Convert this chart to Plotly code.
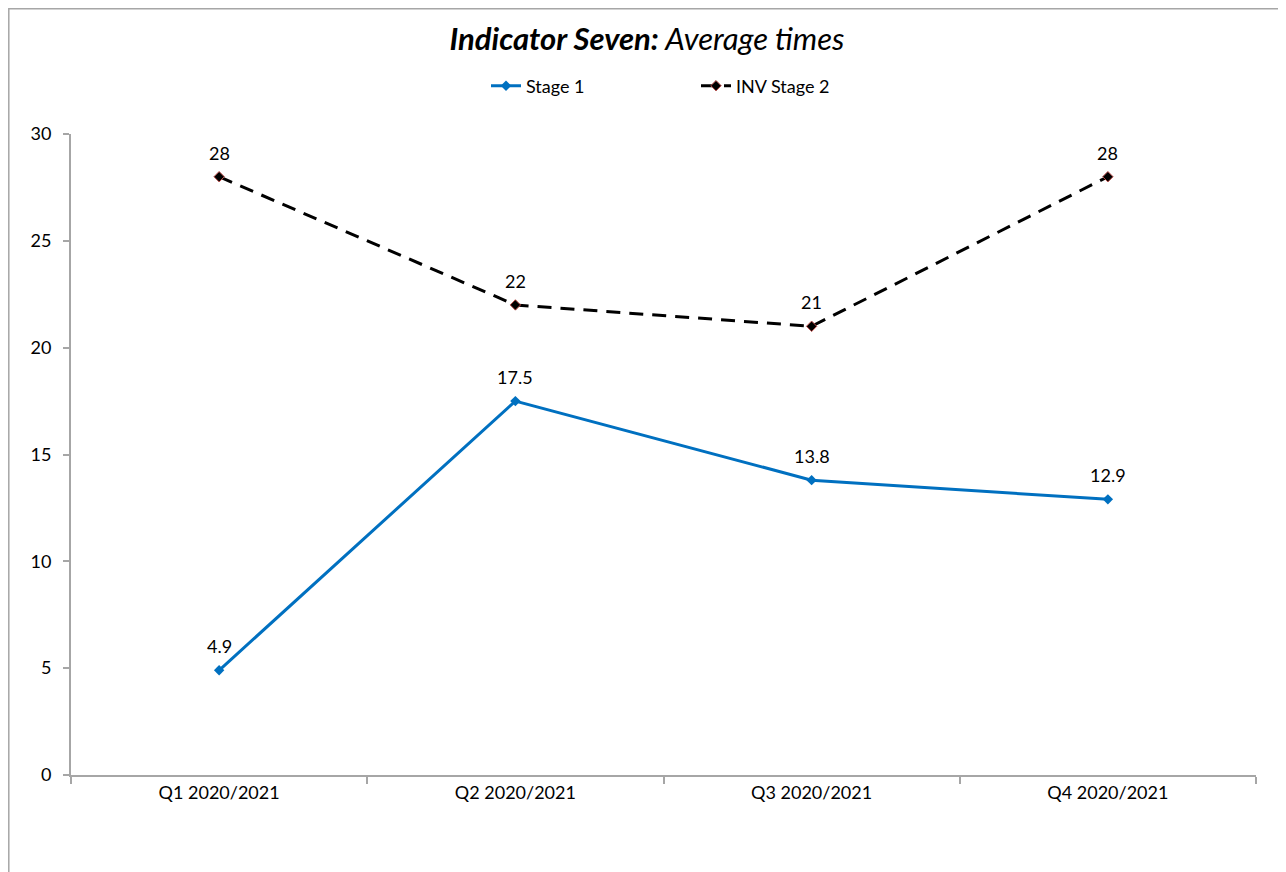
import plotly.graph_objects as go

categories = ["Q1 2020/2021", "Q2 2020/2021", "Q3 2020/2021", "Q4 2020/2021"]
stage1 = [4.9, 17.5, 13.8, 12.9]
inv_stage2 = [28, 22, 21, 28]
stage1_labels = ["4.9", "17.5", "13.8", "12.9"]
inv_labels = ["28", "22", "21", "28"]

FONT = "Lato, 'Open Sans', sans-serif"
W, H = 1278, 864
L, R, T, B = 63, 30, 126, 97

fig = go.Figure()
fig.add_trace(go.Scatter(
    x=categories, y=stage1, name="Stage 1", mode="lines+markers",
    line=dict(color="#0070C0", width=3),
    marker=dict(symbol="diamond", size=8, color="#0070C0"),
))
fig.add_trace(go.Scatter(
    x=categories, y=inv_stage2, name="INV Stage 2", mode="lines+markers",
    line=dict(color="#000000", width=3, dash="14px,9px"),
    marker=dict(symbol="diamond", size=8, color="#000000",
                line=dict(color="#C0504D", width=1)),
))

annotations = []
for xs, ys, labels in [(categories, stage1, stage1_labels), (categories, inv_stage2, inv_labels)]:
    for xv, yv, t in zip(xs, ys, labels):
        annotations.append(dict(x=xv, y=yv, text=t, showarrow=False, yshift=24,
                                font=dict(size=18, family=FONT, color="#000000")))

fig.update_layout(
    width=W, height=H,
    paper_bgcolor="white", plot_bgcolor="white",
    margin=dict(l=L, r=R, t=T, b=B),
    font=dict(family=FONT, size=18, color="#000000"),
    title=dict(
        text="<b><i>Indicator Seven:</i></b><i> Average times</i>",
        x=0.5, xanchor="center", y=1 - 31 / H, yanchor="middle",
        font=dict(size=31, family=FONT, color="#000000"),
    ),
    legend=dict(orientation="h", x=(478 - L) / 1185, xanchor="left",
                y=1 + (T - 78) / (H - T - B), yanchor="middle",
                font=dict(size=18, family=FONT), entrywidth=165, entrywidthmode="pixels",
                bgcolor="rgba(0,0,0,0)"),
    showlegend=True,
    annotations=annotations,
    shapes=[dict(type="rect", xref="paper", yref="paper",
                 x0=(0.8 - L) / 1185, x1=(1290 - L) / 1185,
                 y0=-0.3, y1=(H - B - 0.8) / (H - T - B),
                 line=dict(color="#A6A6A6", width=1.5), layer="below")],
)
fig.update_xaxes(
    type="category", range=[-0.5, 3.5], showgrid=False,
    showline=True, linecolor="#A6A6A6", linewidth=2,
    ticks="outside", tickson="boundaries", ticklen=7, tickcolor="#A6A6A6", tickwidth=2,
    tickfont=dict(size=18, family=FONT), zeroline=False,
)
fig.update_yaxes(
    range=[0, 30], dtick=5, showgrid=False,
    showline=True, linecolor="#A6A6A6", linewidth=2,
    ticks="outside", ticklen=6, tickcolor="#A6A6A6", tickwidth=2,
    tickfont=dict(size=18, family=FONT), zeroline=False, ticklabelstandoff=8,
)

fig.write_html("out.html")
